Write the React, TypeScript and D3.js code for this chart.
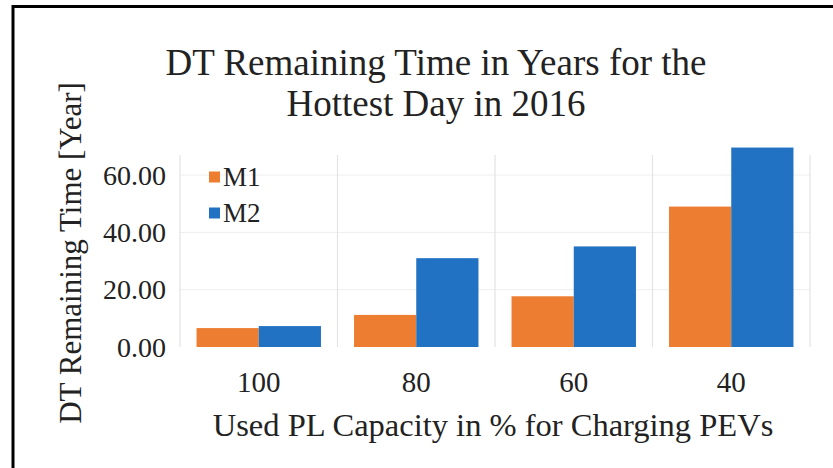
import React from "react";
import * as d3 from "d3";

const categories = ["100", "80", "60", "40"];
const seriesNames = ["M1", "M2"];
const m1Values = [6.6, 11.2, 17.7, 49.0];
const m2Values = [7.3, 31.0, 35.1, 69.6];
const yTicks = [0, 20, 40, 60];
const titleLines = ["DT Remaining Time in Years for the", "Hottest Day in 2016"];
const xTitle = "Used PL Capacity in % for Charging PEVs";
const yTitle = "DT Remaining Time [Year]";

const colors = ["#ED7D31", "#2272C3"];
const FONT = "'Liberation Serif', 'Times New Roman', serif";

export default function App() {
  const W = 833, H = 468;
  const x = d3.scaleBand<string>().domain(categories).range([180, 810]).paddingInner(0.21).paddingOuter(0.105);
  const xs = d3.scaleBand<string>().domain(seriesNames).range([0, x.bandwidth()]);
  const y = d3.scaleLinear().domain([0, 70]).range([347, 146.4]);
  const values = [m1Values, m2Values];
  const step = x.step();
  const bounds = [0, 1, 2, 3, 4].map((i) => 180 + i * step);

  return (
    <svg width={W} height={H} style={{ position: "absolute", left: 0, top: 0, background: "#fff" }} fontFamily={FONT}>
      <rect x={0} y={0} width={W} height={H} fill="#fff" />
      {yTicks.slice(1).map((t) => (
        <line key={"h" + t} x1={180} x2={810} y1={y(t)} y2={y(t)} stroke="#eeeeee" strokeWidth={1} />
      ))}
      {bounds.map((b, i) => (
        <line key={"v" + i} x1={b} x2={b} y1={y(67)} y2={y(0)} stroke="#e3e3e3" strokeWidth={1.2} />
      ))}
      {categories.map((c, ci) => (
        <g key={c}>
          {seriesNames.map((s, si) => (
            <rect
              key={s}
              x={(x(c) ?? 0) + (xs(s) ?? 0)}
              width={xs.bandwidth()}
              y={y(values[si][ci])}
              height={y(0) - y(values[si][ci])}
              fill={colors[si]}
            />
          ))}
        </g>
      ))}
      {yTicks.map((t) => (
        <text key={"yt" + t} x={166} y={y(t)} dy="0.35em" textAnchor="end" fontSize={28} fill="#222">
          {t.toFixed(2)}
        </text>
      ))}
      {categories.map((c) => (
        <text key={"xt" + c} x={(x(c) ?? 0) + x.bandwidth() / 2} y={382} dy="0.35em" textAnchor="middle" fontSize={29} fill="#222">
          {c}
        </text>
      ))}
      <text x={493} y={425} dy="0.35em" textAnchor="middle" fontSize={32.5} fill="#222">
        {xTitle}
      </text>
      <text transform="translate(70,253) rotate(-90)" dy="0.35em" textAnchor="middle" fontSize={31} fill="#222">
        {yTitle}
      </text>
      {titleLines.map((l, i) => (
        <text key={"t" + i} x={436} y={62 + i * 41} dy="0.35em" textAnchor="middle" fontSize={37} fill="#222">
          {l}
        </text>
      ))}
      {seriesNames.map((s, i) => (
        <g key={"lg" + s} transform={`translate(209,${177 + i * 36})`}>
          <rect x={0} y={-5.5} width={11} height={11} fill={colors[i]} />
          <text x={14} y={0} dy="0.35em" fontSize={27} fill="#222">
            {s}
          </text>
        </g>
      ))}
      <line x1={12} x2={W} y1={6.5} y2={6.5} stroke="#000" strokeWidth={3} />
      <line x1={13} x2={13} y1={5} y2={H} stroke="#000" strokeWidth={3} />
    </svg>
  );
}
